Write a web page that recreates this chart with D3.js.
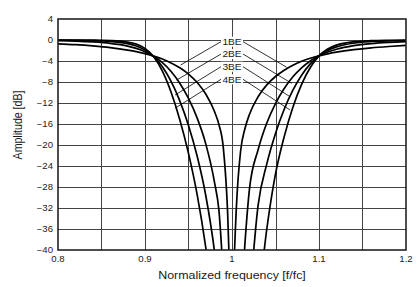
<!DOCTYPE html>
<html>
<head>
<meta charset="utf-8">
<script src="https://cdn.jsdelivr.net/npm/d3@7"></script>
<style>
  body { margin: 0; background: #fff; }
  svg { display: block; font-family: "Liberation Sans", Arial, sans-serif; }
</style>
</head>
<body>
<div id="chart"></div>
<script>
// normalized frequency samples (f/fc)
var freq = [0.80,0.82,0.84,0.86,0.88,0.89,0.90,0.91,0.92,0.93,0.94,0.95,0.96,0.97,0.98,0.985,0.99,0.995,0.998,1.0,
            1.002,1.005,1.01,1.015,1.02,1.03,1.04,1.05,1.06,1.07,1.08,1.09,1.10,1.11,1.12,1.14,1.16,1.18,1.20];

// amplitude in dB (values under -40 fall off the bottom)
var be1 = [-0.72,-0.89,-1.13,-1.45,-1.92,-2.22,-2.60,-3.06,-3.63,-4.36,-5.29,-6.49,-8.10,-10.34,-13.68,-16.12,-20.5,-33,-48,-60,
           -45,-32,-21,-16.8,-14.2,-10.8,-8.55,-6.95,-5.75,-4.8,-4.06,-3.48,-3.01,-2.63,-2.32,-1.84,-1.49,-1.24,-1.04];
var be2 = [-0.14,-0.22,-0.37,-0.64,-1.16,-1.60,-2.22,-3.10,-4.33,-6.00,-8.23,-11.13,-14.89,-19.88,-27.2,-32.5,-45,-60,-60,-60,
           -60,-60,-52,-38.5,-28.5,-20.9,-15.8,-12.1,-9.25,-7.0,-5.3,-4.0,-3.01,-2.29,-1.76,-1.07,-0.68,-0.45,-0.31];
var be3 = [-0.03,-0.05,-0.11,-0.27,-0.68,-1.13,-1.89,-3.15,-5.10,-7.89,-11.59,-16.28,-22.15,-29.76,-40.46,-48,-58.7,-60,-60,-60,
           -60,-60,-60,-60,-50,-31.5,-23.6,-17.8,-13.2,-9.55,-6.7,-4.55,-3.01,-1.98,-1.31,-0.60,-0.29,-0.15,-0.09];
var be4 = [-0.01,-0.01,-0.03,-0.11,-0.39,-0.79,-1.60,-3.20,-5.93,-9.95,-15.17,-21.59,-29.50,-39.68,-53,-60,-60,-60,-60,-60,
           -60,-60,-60,-60,-60,-50,-36,-25.5,-18.4,-12.8,-8.45,-5.25,-3.01,-1.71,-0.97,-0.32,-0.12,-0.05,-0.02];

var seriesNames = ["1BE","2BE","3BE","4BE"];
var seriesData = [be1, be2, be3, be4];

// label positions and leader ends, in chart units
var labelF = 1.0;
var labelDb = [-0.32,-2.67,-5.09,-7.49];
var leftEndF = [0.9410,0.9364,0.9345,0.9345];
var leftEndDb = [-4.76,-7.62,-10.48,-13.0];
var rightEndF = [1.0629,1.0686,1.0667,1.0667];
var rightEndDb = [-5.2,-8.25,-10.8,-13.33];

var xTicks = [0.8,0.9,1,1.1,1.2];
var xTickLabels = ["0.8","0.9","1","1.1","1.2"];
var xGrid = [0.85,0.9,0.95,1.0,1.05,1.1,1.15];
var yTicks = [4,0,-4,-8,-12,-16,-20,-24,-28,-32,-36,-40];
var yTickLabels = ["4","0","\u22124","\u22128","\u221212","\u221216","\u221220","\u221224","\u221228","\u221232","\u221236","\u221240"];

var width = 419, height = 287;
var margin = {top: 19, right: 13, bottom: 37, left: 58};
var stretch = 1.13;   // the lettering in the picture is a bit wide

var svg = d3.select("#chart").append("svg")
    .attr("width", width)
    .attr("height", height);

var x = d3.scaleLinear().domain([0.8, 1.2]).range([margin.left, width - margin.right]);
var y = d3.scaleLinear().domain([-40, 4]).range([height - margin.bottom, margin.top]);

function wideText(parent, px, py, str, size, anchor, rot){
    return parent.append("text")
        .attr("transform", "translate(" + px + "," + py + ") scale(" + stretch + ",1)" + (rot ? " rotate(" + rot + ")" : ""))
        .attr("text-anchor", anchor)
        .attr("font-size", size + "px")
        .attr("fill", "#1a1a1a")
        .text(str);
}

svg.append("defs").append("clipPath").attr("id", "plotclip")
    .append("rect")
    .attr("x", x(0.8)).attr("y", y(4))
    .attr("width", x(1.2) - x(0.8)).attr("height", y(-40) - y(4));

// grid
svg.append("g").selectAll("line")
    .data(yTicks.slice(1, -1))
    .enter().append("line")
    .attr("x1", x(0.8)).attr("x2", x(1.2))
    .attr("y1", function(d){ return Math.round(y(d)) + 0.5; })
    .attr("y2", function(d){ return Math.round(y(d)) + 0.5; })
    .attr("stroke", "#444").attr("stroke-width", 1);

svg.append("g").selectAll("line")
    .data(xGrid)
    .enter().append("line")
    .attr("y1", y(4)).attr("y2", y(-40))
    .attr("x1", function(d){ return Math.round(x(d)) + 0.5; })
    .attr("x2", function(d){ return Math.round(x(d)) + 0.5; })
    .attr("stroke", "#444").attr("stroke-width", 1);

// curves
var line = d3.line()
    .x(function(d, i){ return x(freq[i]); })
    .y(function(d){ return y(d); })
    .curve(d3.curveMonotoneX);

svg.append("g").attr("clip-path", "url(#plotclip)")
    .selectAll("path")
    .data(seriesData)
    .enter().append("path")
    .attr("d", line)
    .attr("fill", "none")
    .attr("stroke", "#000")
    .attr("stroke-width", 1.7);

// labels with leaders
var lab = svg.append("g");
seriesNames.forEach(function(name, i){
    var g = lab.append("g");
    var cx = x(labelF), cy = y(labelDb[i]);
    var half = 9.5;
    g.append("rect").attr("fill", "#fff")
        .attr("x", cx - half - 1.5).attr("y", cy - 5)
        .attr("width", 2 * half + 3).attr("height", 10);
    wideText(g, cx, cy + 3.3, name, 9, "middle");
    g.append("line")
        .attr("x1", cx - half - 1.5).attr("y1", cy)
        .attr("x2", x(leftEndF[i])).attr("y2", y(leftEndDb[i]))
        .attr("stroke", "#000").attr("stroke-width", 0.8);
    g.append("line")
        .attr("x1", cx + half + 1.5).attr("y1", cy)
        .attr("x2", x(rightEndF[i])).attr("y2", y(rightEndDb[i]))
        .attr("stroke", "#000").attr("stroke-width", 0.8);
});

// frame
svg.append("rect")
    .attr("x", x(0.8)).attr("y", y(4))
    .attr("width", x(1.2) - x(0.8)).attr("height", y(-40) - y(4))
    .attr("fill", "none").attr("stroke", "#222").attr("stroke-width", 1.6);

// tick labels
yTicks.forEach(function(d, i){
    wideText(svg, x(0.8) - 5, y(d) + 3, yTickLabels[i], 8.5, "end");
});
xTicks.forEach(function(d, i){
    wideText(svg, x(d), y(-40) + 12, xTickLabels[i], 8.5, "middle");
});

// axis titles
wideText(svg, x(1.0), 279, "Normalized frequency [f/fc]", 11, "middle");
wideText(svg, 22, 125, "Amplitude [dB]", 10.6, "middle", -90);
</script>
</body>
</html>
